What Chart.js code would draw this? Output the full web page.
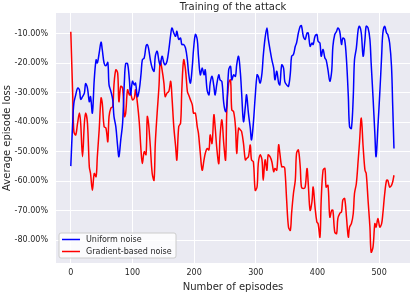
<!DOCTYPE html>
<html>
<head>
<meta charset="utf-8">
<script src="https://cdn.jsdelivr.net/npm/chart.js@4.4.1/dist/chart.umd.min.js"></script>
<style>
  html, body { margin: 0; padding: 0; background: #fff; }
  #wrap { width: 415px; height: 293px; position: relative; }
</style>
</head>
<body>
<div id="wrap"><canvas id="attack-line"></canvas></div>
<script>
////////// Training of the attack

// Data
const episodes = [
  0, 3, 5, 8, 11, 14, 16, 19, 22, 24, 27, 30, 32, 35, 38, 41, 43, 46, 49, 51,
  54, 57, 60, 62, 65, 68, 70, 73, 76, 78, 81, 84, 87, 89, 92, 95, 97, 100, 103, 105,
  108, 111, 114, 116, 119, 122, 124,
  126, 129, 132, 135, 137, 140, 143, 145, 148, 151, 153, 156, 159, 162, 164, 167, 170, 172,
  175, 178, 180, 183, 186, 189, 191, 194, 197, 199, 202, 205, 207, 210, 213, 216, 218, 221,
  224, 226, 229, 232, 234, 237, 240, 242, 245, 248, 251, 253, 256, 259, 261, 264, 267,
  269, 272, 275, 277, 280, 283, 285, 288, 291, 293, 296, 299, 302, 304, 307, 310, 312, 315,
  318, 320, 323, 326, 329, 331, 334, 337, 339, 342, 345, 347, 350, 353, 356, 358, 361, 364,
  366, 369, 372, 374, 377, 380, 383, 385, 388, 391, 393, 396, 399, 401,
  404, 406, 409, 412, 414, 417, 420, 423, 425, 428, 431, 433, 436, 439, 441, 444, 447, 450,
  452, 455, 458, 460, 463, 466, 468, 471, 474, 477, 479, 482, 485, 487, 490, 493, 495, 498,
  501, 504, 506, 509, 512, 514, 517, 520, 522, 524,
];

const uniformLoss = [
  -54.9, -40.3, -33.5, -30.7, -28.4, -29.0, -32.2, -31.3, -30.1, -26.9, -28.4, -33.0, -31.3,
  -36.9, -25.6, -18.8, -19.9, -16.5, -12.8, -15.3, -19.9, -20.8, -19.7, -27.3, -29.5, -32.4,
  -38.0, -41.5, -48.3, -51.7, -46.0, -40.3, -25.6, -20.1, -20.1, -25.6, -30.7, -26.1, -27.3,
  -26.7, -31.3, -29.0, -23.3, -18.8, -18.2, -14.2, -13.6,
  -14.8, -18.8, -21.6, -22.7, -17.6, -15.9, -19.3, -20.5, -17.6, -19.9, -20.5, -19.3, -15.3,
  -10.2, -8.0, -9.7, -10.8, -9.1, -11.9, -11.4, -13.6, -13.6, -14.8, -18.8, -23.3, -26.7,
  -21.0, -15.3, -10.2, -11.9, -17.6, -23.9, -21.6, -23.9, -22.2, -29.0, -30.7, -26.7, -24.4,
  -27.8, -30.7, -26.7, -23.9, -25.6, -26.2, -33.5, -36.4, -34.1, -22.2, -21.0, -25.6, -23.9,
  -24.4,
  -20.5, -17.6, -23.3, -30.1, -39.8, -34.7, -30.7, -36.9, -42.0, -46.0, -40.3, -31.3, -23.9,
  -24.4, -26.7, -23.3, -17.6, -11.4, -8.0, -11.4, -15.3, -18.8, -21.6, -25.6, -22.7, -26.7,
  -27.3, -20.5, -21.6, -26.2, -27.3, -27.8, -23.3, -17.6, -17.0, -14.2, -13.1, -9.7, -7.4,
  -7.2, -10.8, -11.9, -9.7, -9.7, -14.2, -13.1, -13.6, -10.8, -10.2, -12.5,
  -13.1, -17.6, -15.3, -18.2, -18.8, -22.2, -26.1, -22.7, -14.2, -10.2, -9.1, -8.0, -9.1,
  -13.6, -11.4, -11.9, -18.8, -31.3, -41.5, -42.1, -31.3, -18.8, -14.8, -8.5, -7.4, -9.7,
  -17.6, -11.9, -7.4, -8.0, -11.9, -19.9, -31.3, -43.8, -51.7, -41.5, -30.1, -17.6, -9.7,
  -7.4, -9.7, -10.2, -13.1, -21.0, -34.7, -48.9,
];

const gradientLoss = [
  -9.3, -30.0, -43.2, -44.3, -40.3, -36.9, -40.3, -51.7, -40.3, -36.9, -40.3, -55.1, -57.4,
  -63.1, -57.4, -58.5, -51.7, -42.6, -31.8, -33.5, -41.5, -42.0, -46.6, -38.1, -35.2, -34.7,
  -27.3, -22.2, -23.3, -33.0, -27.8, -28.4, -38.1, -36.9, -29.0, -30.7, -30.1, -32.4, -31.8,
  -29.0, -33.5, -40.0, -50.0, -54.0, -50.0, -51.0, -38.1,
  -40.3, -48.3, -57.4, -59.7, -47.2, -36.9, -27.8, -19.3, -22.2, -26.7, -31.3, -30.1, -29.5,
  -26.1, -31.3, -41.5, -48.3, -52.8, -41.5, -40.3, -29.0, -18.8, -22.2, -29.5, -30.7, -32.4,
  -34.1, -36.9, -36.9, -41.5, -43.8, -50.6, -56.3, -52.8, -50.6, -48.9, -49.4, -44.3, -47.2,
  -37.5, -41.5, -49.4, -54.0, -44.9, -39.2, -47.2, -52.8, -35.8, -26.7, -25.6, -35.8, -36.4,
  -41.5,
  -50.6, -42.0, -42.6, -43.2, -47.2, -52.8, -52.3, -51.7, -47.7, -52.8, -53.4, -63.1, -62.0,
  -54.0, -51.1, -52.8, -59.7, -52.8, -56.3, -51.1, -51.7, -53.4, -56.8, -55.7, -56.3, -47.7,
  -50.6, -55.1, -55.1, -55.7, -66.5, -75.6, -76.7, -71.0, -64.2, -59.7, -50.6, -49.4, -55.1,
  -62.0, -62.5, -62.0, -55.7, -60.8, -69.9, -67.0, -62.0, -68.8, -73.9, -74.4,
  -79.0, -66.5, -56.3, -55.7, -62.0, -61.4, -72.2, -69.9, -69.9, -77.3, -77.8, -72.7, -71.0,
  -70.4, -66.5, -65.9, -72.2, -79.0, -75.6, -74.4, -71.0, -64.2, -60.8, -52.8, -47.2, -38.6,
  -48.3, -56.3, -57.4, -66.5, -75.6, -84.1, -82.4, -74.4, -75.6, -72.7, -75.6, -74.4, -71.0,
  -64.2, -59.7, -59.7, -62.0, -61.4, -60.2, -58.0,
];

const xTicks = [0, 100, 200, 300, 400, 500];
const yTicks = [-10, -20, -30, -40, -50, -60, -70, -80];

const seriesInfo = [
  { label: "Uniform noise", values: uniformLoss, color: "#0000FF" },
  { label: "Gradient-based noise", values: gradientLoss, color: "#FF0000" },
];

const textColor = "#262626";
const fontFamily = "'DejaVu Sans', sans-serif";

// chart area background + title + legend (matplotlib style)
const seabornPlugin = {
  id: "seaborn",
  beforeDraw(chart) {
    const { ctx, chartArea: a } = chart;
    ctx.save();
    ctx.fillStyle = "#EAEAF2";
    ctx.fillRect(a.left, a.top, a.right - a.left, a.bottom - a.top);
    ctx.restore();
  },
  afterDraw(chart) {
    const { ctx, chartArea: a } = chart;
    ctx.save();
    ctx.fillStyle = textColor;
    ctx.font = "10px " + fontFamily;
    ctx.textAlign = "center";
    ctx.textBaseline = "middle";
    ctx.fillText("Training of the attack", (a.left + a.right) / 2, 7);

    // legend box
    const bx = a.left + 3, by = a.bottom - 30, bw = 117, bh = 25, r = 2;
    ctx.beginPath();
    ctx.moveTo(bx + r, by);
    ctx.arcTo(bx + bw, by, bx + bw, by + bh, r);
    ctx.arcTo(bx + bw, by + bh, bx, by + bh, r);
    ctx.arcTo(bx, by + bh, bx, by, r);
    ctx.arcTo(bx, by, bx + bw, by, r);
    ctx.closePath();
    ctx.fillStyle = "rgba(255,255,255,0.8)";
    ctx.fill();
    ctx.strokeStyle = "#CCCCCC";
    ctx.lineWidth = 1;
    ctx.stroke();

    ctx.font = "8px " + fontFamily;
    ctx.textAlign = "left";
    chart.data.datasets.forEach((ds, i) => {
      const y = by + 6.5 + i * 12;
      ctx.beginPath();
      ctx.moveTo(bx + 3, y);
      ctx.lineTo(bx + 21, y);
      ctx.strokeStyle = ds.borderColor;
      ctx.lineWidth = 1.5;
      ctx.stroke();
      ctx.fillStyle = textColor;
      ctx.fillText(ds.label, bx + 27, y + 0.5);
    });
    ctx.restore();
  },
};

const attackEl = document.getElementById("attack-line").getContext("2d");

const attackLine = new Chart(attackEl, {
  type: "line",
  data: {
    datasets: seriesInfo.map((s) => ({
      label: s.label,
      data: episodes.map((ep, i) => ({ x: ep, y: s.values[i] })),
      borderColor: s.color,
      backgroundColor: s.color,
      borderWidth: 1.5,
      pointRadius: 0,
      fill: false,
      tension: 0.35,
    })),
  },
  options: {
    responsive: true,
    maintainAspectRatio: false,
    animation: false,
    devicePixelRatio: 1,
    layout: { padding: { top: 13, right: 5, left: 0, bottom: 0 } },
    plugins: {
      legend: { display: false },
      tooltip: { enabled: false },
    },
    scales: {
      x: {
        type: "linear",
        min: -24,
        max: 550,
        afterBuildTicks: (s) => { s.ticks = xTicks.map((v) => ({ value: v })); },
        afterFit: (s) => { s.height = 30; },
        grid: { color: "#FFFFFF", lineWidth: 1, drawTicks: false },
        border: { display: false },
        ticks: {
          color: textColor,
          font: { family: fontFamily, size: 8 },
          padding: 5,
          maxRotation: 0,
          callback: (v) => String(v),
        },
        title: {
          display: true,
          text: "Number of episodes",
          color: textColor,
          font: { family: fontFamily, size: 10 },
          padding: { top: 0, bottom: 0 },
        },
      },
      y: {
        type: "linear",
        min: -87.8,
        max: -2.9,
        afterBuildTicks: (s) => { s.ticks = yTicks.map((v) => ({ value: v })); },
        afterFit: (s) => { s.width = 56; },
        grid: { color: "#FFFFFF", lineWidth: 1, drawTicks: false },
        border: { display: false },
        ticks: {
          color: textColor,
          font: { family: fontFamily, size: 8 },
          padding: 8,
          callback: (v) => v.toFixed(2) + "%",
        },
        title: {
          display: true,
          text: "Average episode loss",
          color: textColor,
          font: { family: fontFamily, size: 10 },
          padding: { top: 1, bottom: 0 },
        },
      },
    },
  },
  plugins: [seabornPlugin],
});
</script>
</body>
</html>
